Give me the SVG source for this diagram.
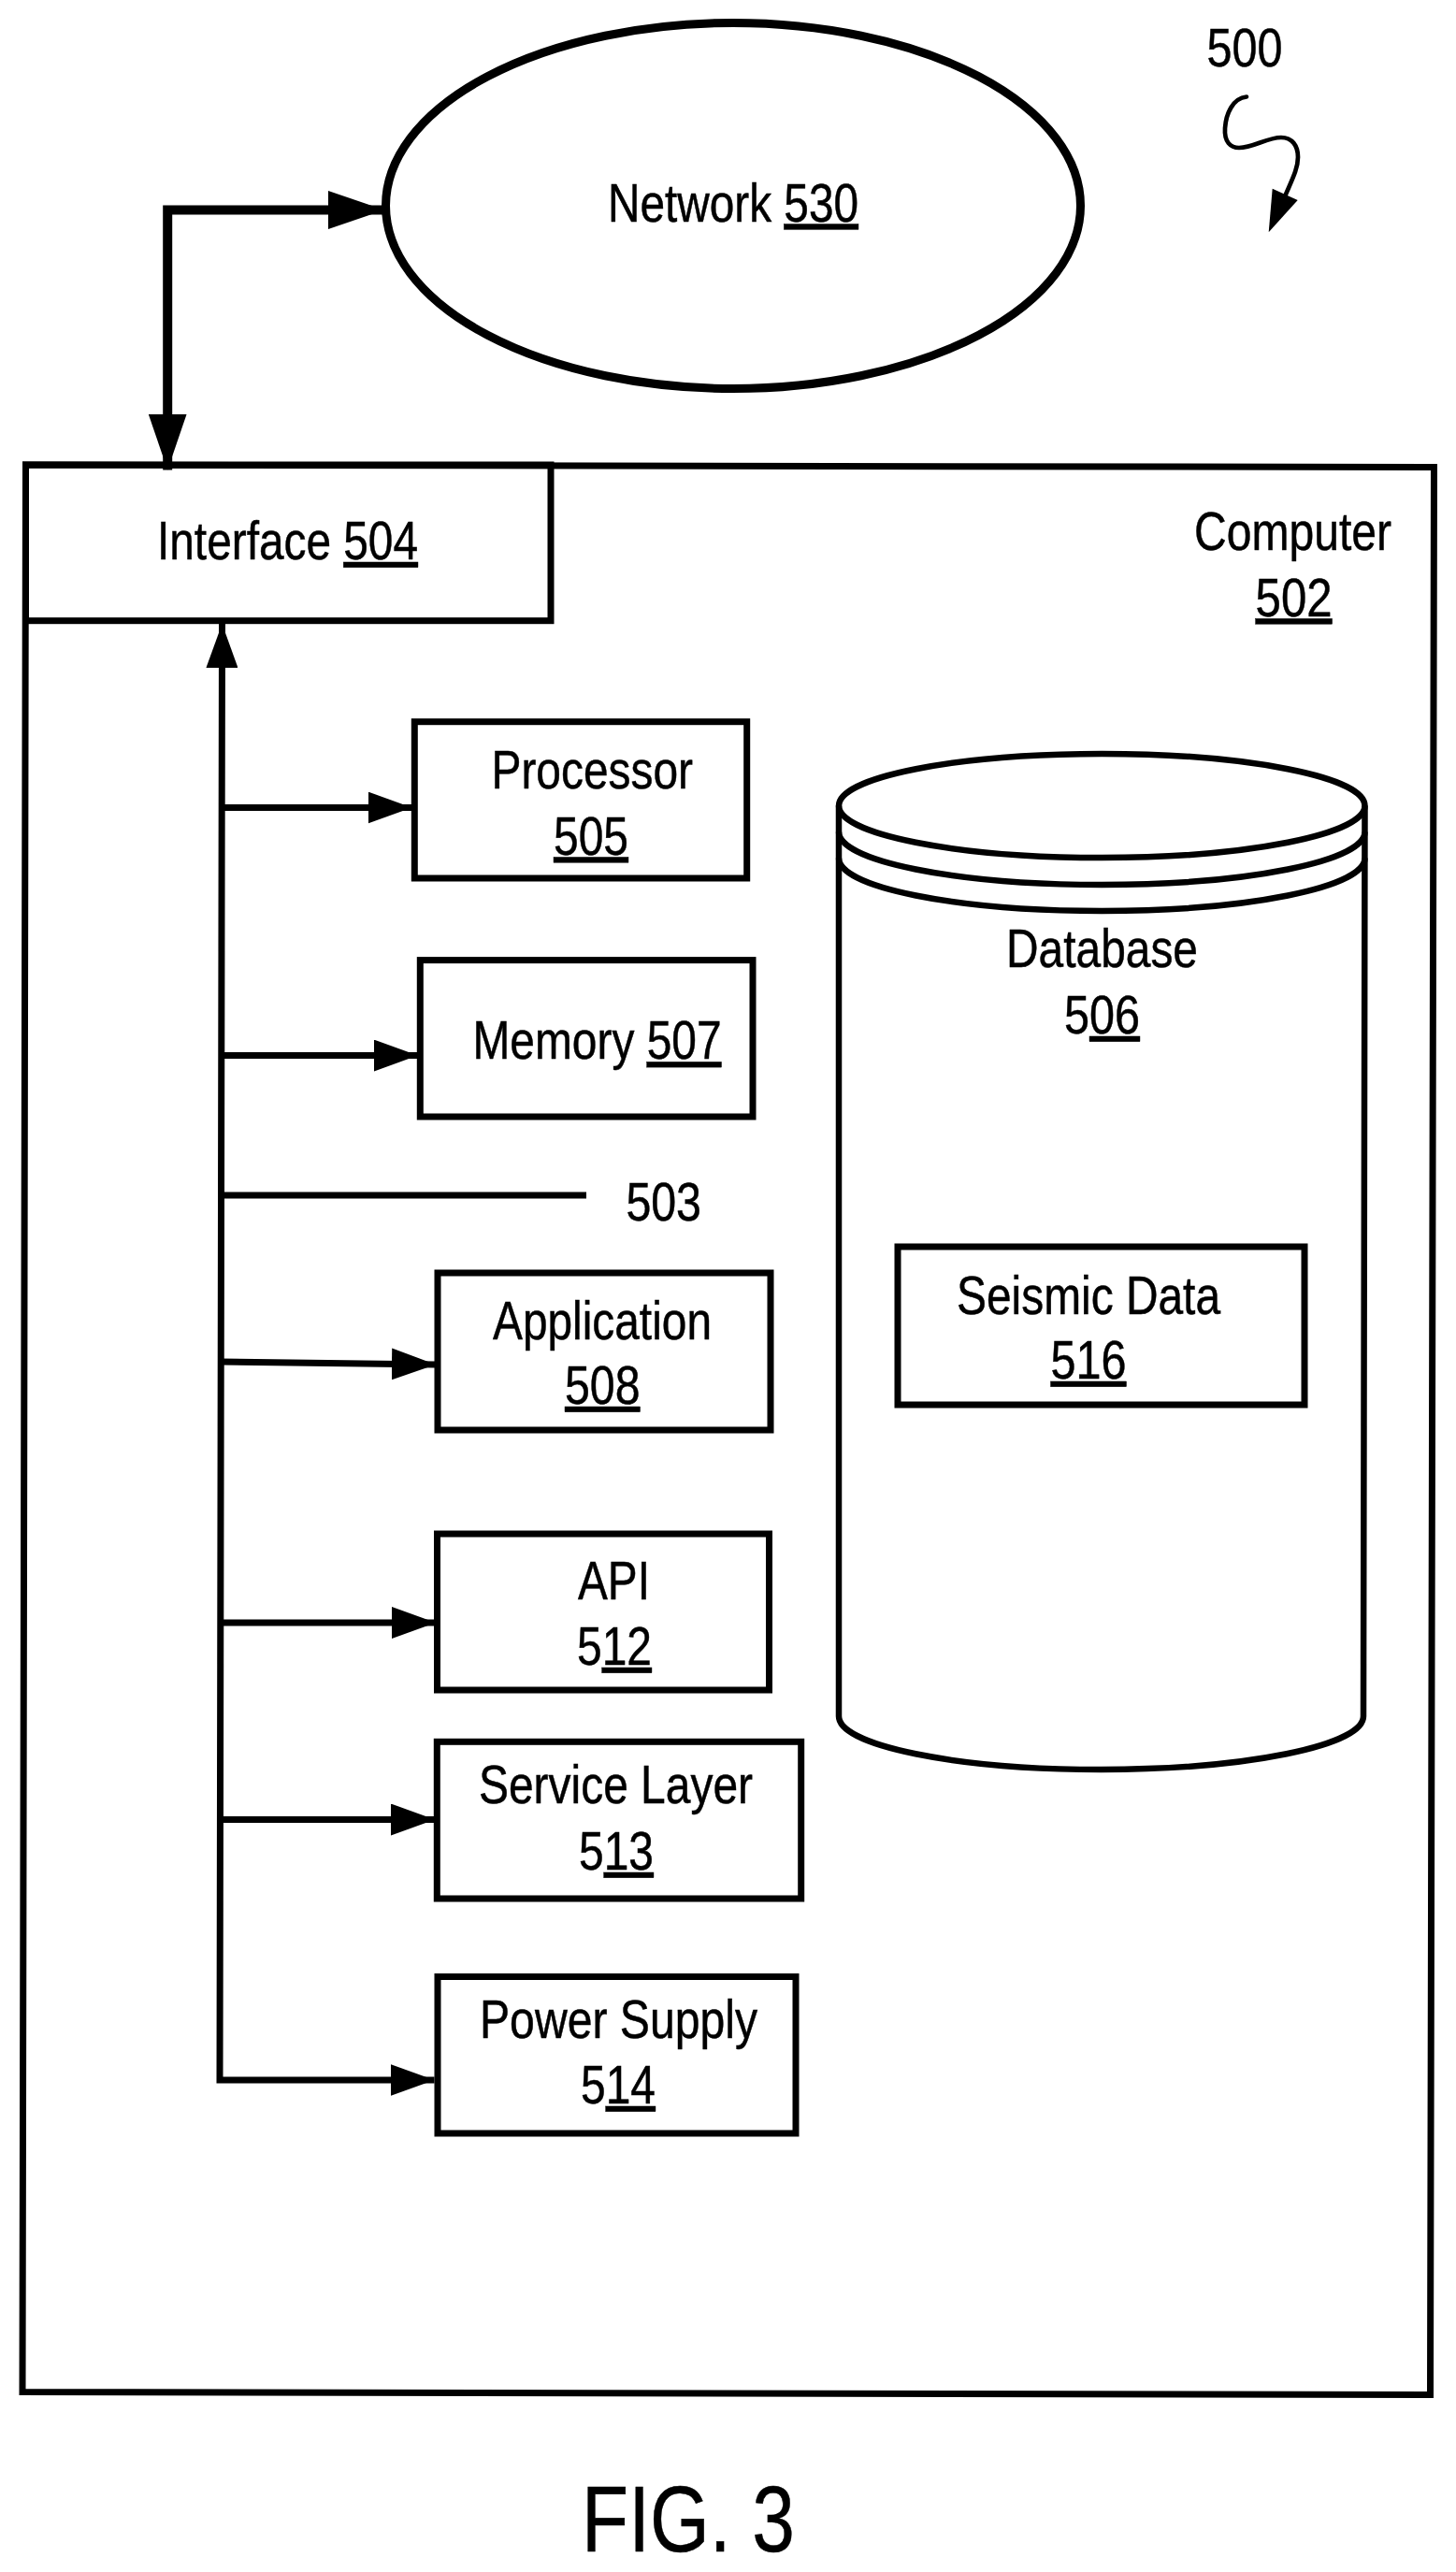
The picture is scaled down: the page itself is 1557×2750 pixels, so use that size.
<svg xmlns="http://www.w3.org/2000/svg" width="1557" height="2750" viewBox="0 0 1557 2750">
<style>
text{font-family:"Liberation Sans",Arial,sans-serif;font-size:57px;fill:#000;stroke:#000;stroke-width:.5}
.u{text-decoration:underline}
.fig{font-size:101px}
.box{fill:none;stroke:#000;stroke-width:7}
.shape{fill:none;stroke:#000;stroke-width:6.5}
.line{fill:none;stroke:#000;stroke-width:7}
</style>
<defs>
<marker id="head" markerUnits="userSpaceOnUse" markerWidth="47" markerHeight="34" refX="47" refY="17" orient="auto-start-reverse"><path d="M0,0L47,17L0,34Z" fill="#000"/></marker>
<marker id="thick" markerUnits="userSpaceOnUse" markerWidth="60" markerHeight="41" refX="60" refY="20.5" orient="auto-start-reverse"><path d="M0,0L60,20.5L0,41Z" fill="#000"/></marker>
</defs>
<rect width="1557" height="2750" fill="#fff"/>
<g id="computer-502"><path class="box" d="M27.5,497L1533.5,499.5L1529.5,2560.5L24,2557.5Z"/>
<text x="1277" y="588.4" textLength="211" lengthAdjust="spacingAndGlyphs">Computer</text>
<text x="1342.6" y="658.5" textLength="82" lengthAdjust="spacingAndGlyphs" class="u">502</text></g>
<g id="network-530"><ellipse cx="784" cy="220" rx="371.5" ry="195.5" fill="none" stroke="#000" stroke-width="9"/>
<text x="650" y="236.6" textLength="268" lengthAdjust="spacingAndGlyphs">Network <tspan class="u">530</tspan></text></g>
<g id="interface-504"><rect class="box" x="27.5" y="497" width="561.5" height="166.7"/>
<text x="168" y="598" textLength="279" lengthAdjust="spacingAndGlyphs">Interface <tspan class="u">504</tspan></text></g>
<g id="processor-505"><rect class="box" x="443.3" y="771.7" width="355.4" height="167.3"/>
<text x="525.5" y="843" textLength="215.5" lengthAdjust="spacingAndGlyphs">Processor</text>
<text x="592" y="913.5" textLength="80" lengthAdjust="spacingAndGlyphs" class="u">505</text></g>
<g id="memory-507"><rect class="box" x="449.3" y="1026.6" width="355.7" height="167.4"/>
<text x="505.5" y="1132.4" textLength="266" lengthAdjust="spacingAndGlyphs">Memory <tspan class="u">507</tspan></text></g>
<g id="application-508"><rect class="box" x="468" y="1361" width="356" height="168"/>
<text x="527" y="1431.7" textLength="234" lengthAdjust="spacingAndGlyphs">Application</text>
<text x="604" y="1501" textLength="80.5" lengthAdjust="spacingAndGlyphs" class="u">508</text></g>
<g id="api-512"><rect class="box" x="467.5" y="1640" width="355" height="167"/>
<text x="618" y="1710" textLength="77" lengthAdjust="spacingAndGlyphs">API</text>
<text x="617" y="1780" textLength="80" lengthAdjust="spacingAndGlyphs">5<tspan class="u">12</tspan></text></g>
<g id="service-layer-513"><rect class="box" x="467.3" y="1862.3" width="389.4" height="167.7"/>
<text x="512" y="1928" textLength="293" lengthAdjust="spacingAndGlyphs">Service Layer</text>
<text x="619" y="1999" textLength="80" lengthAdjust="spacingAndGlyphs">5<tspan class="u">13</tspan></text></g>
<g id="power-supply-514"><rect class="box" x="468" y="2113.5" width="383" height="167.5"/>
<text x="513" y="2179" textLength="297" lengthAdjust="spacingAndGlyphs">Power Supply</text>
<text x="621" y="2249" textLength="80" lengthAdjust="spacingAndGlyphs">5<tspan class="u">14</tspan></text></g>
<g id="database-506">
<path class="shape" d="M897,861.5V1835A280.5,57 0 0 0 1458,1835L1459.5,861.5"/>
<ellipse class="shape" cx="1178.25" cy="861.5" rx="281.25" ry="55.5"/>
<path class="shape" d="M897,889.5A281.25,56.5 0 0 0 1459.5,889.5"/>
<path class="shape" d="M897,917.5A281.25,56.5 0 0 0 1459.5,917.5"/>
<text x="1076" y="1034" textLength="205" lengthAdjust="spacingAndGlyphs">Database</text>
<text x="1138" y="1105" textLength="81" lengthAdjust="spacingAndGlyphs">5<tspan class="u">06</tspan></text></g>
<g id="seismic-data-516"><rect class="box" x="960" y="1333" width="435" height="169"/>
<text x="1023" y="1404.5" textLength="282" lengthAdjust="spacingAndGlyphs">Seismic Data</text>
<text x="1123.5" y="1474" textLength="81" lengthAdjust="spacingAndGlyphs" class="u">516</text></g>
<g id="connectors">
<path d="M411,224.5H179.2V502.5" fill="none" stroke="#000" stroke-width="10" marker-start="url(#thick)" marker-end="url(#thick)"/>
<path class="line" d="M237.5,667L235,2224H464.5" marker-start="url(#head)" marker-end="url(#head)"/>
<path class="line" d="M237,863.5H440.5" marker-end="url(#head)"/>
<path class="line" d="M237,1128.5H446.7" marker-end="url(#head)"/>
<path class="line" d="M236,1278H627"/>
<path class="line" d="M236,1456L466,1459" marker-end="url(#head)"/>
<path class="line" d="M236,1735H466" marker-end="url(#head)"/>
<path class="line" d="M235.5,1945.5H465" marker-end="url(#head)"/>
</g>
<g id="ref-500">
<text x="1290.5" y="71.4" textLength="81" lengthAdjust="spacingAndGlyphs">500</text>
<path d="M1333,103.5C1318,105 1311,122 1310,137C1309,152 1316,158 1325,158C1340,158 1355,147 1370,147C1382,147 1388,156 1388,168C1388,182 1380,195 1372,215" fill="none" stroke="#000" stroke-width="4.7" stroke-linecap="round"/>
<path d="M1356.7,248.3L1360.7,201.7L1387.7,214Z" fill="#000"/>
</g>
<g id="ref-503"><text x="669.4" y="1305" textLength="80.6" lengthAdjust="spacingAndGlyphs">503</text></g>
<g id="figure-label"><text class="fig" x="622" y="2728" textLength="228" lengthAdjust="spacingAndGlyphs">FIG. 3</text></g>
</svg>
